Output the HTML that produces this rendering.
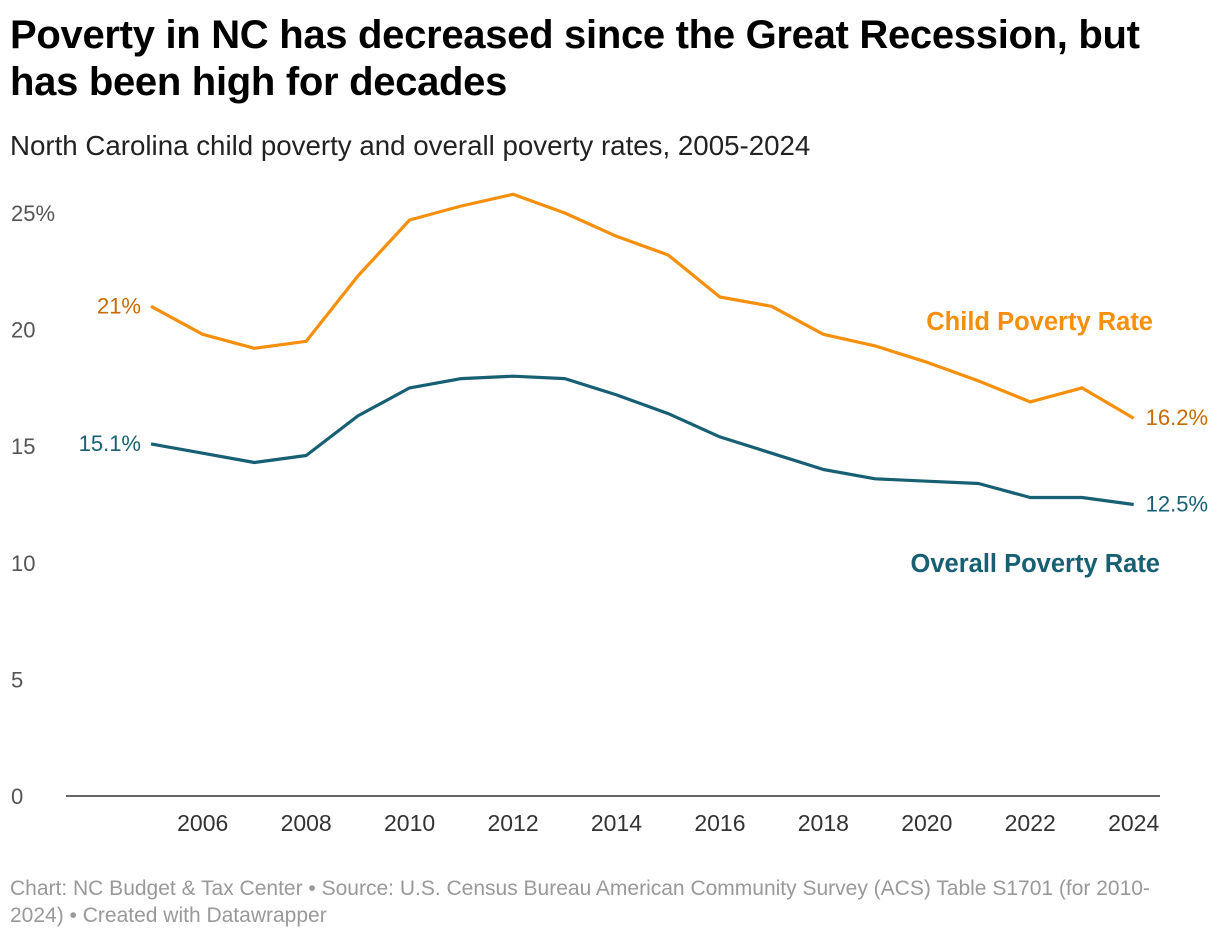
<!DOCTYPE html>
<html><head><meta charset="utf-8"><style>
body{margin:0;background:#fff;font-family:"Liberation Sans",sans-serif;}
#wrap{position:relative;width:1220px;height:938px;overflow:hidden;}
h1{position:absolute;left:10px;top:12px;margin:0;font-size:40px;line-height:47px;font-weight:bold;color:#000;width:1200px;letter-spacing:-0.3px}
.sub{position:absolute;left:10px;top:130px;font-size:27.7px;color:#222;}
.foot{position:absolute;left:10px;top:875px;font-size:21px;line-height:27px;color:#999;width:1185px}
svg{position:absolute;left:0;top:0}
</style></head><body>
<div id="wrap">
<h1>Poverty in NC has decreased since the Great Recession, but has been high for decades</h1>
<div class="sub">North Carolina child poverty and overall poverty rates, 2005-2024</div>
<svg id="plot" width="1220" height="938"></svg>
<div class="foot">Chart: NC Budget &amp; Tax Center • Source: U.S. Census Bureau American Community Survey (ACS) Table S1701 (for 2010-2024) • Created with Datawrapper</div>
</div>
<script>
const years=[2005,2006,2007,2008,2009,2010,2011,2012,2013,2014,2015,2016,2017,2018,2019,2020,2021,2022,2023,2024];
const childRate=[21,19.8,19.2,19.5,22.3,24.7,25.3,25.8,25.0,24.0,23.2,21.4,21.0,19.8,19.3,18.6,17.8,16.9,17.5,16.2];
const overallRate=[15.1,14.7,14.3,14.6,16.3,17.5,17.9,18.0,17.9,17.2,16.4,15.4,14.7,14.0,13.6,13.5,13.4,12.8,12.8,12.5];
const yTicks=[0,5,10,15,20,25];
const xTicks=[2006,2008,2010,2012,2014,2016,2018,2020,2022,2024];
const NS="http://www.w3.org/2000/svg";
const svg=document.getElementById('plot');
const x=v=>151+(v-2005)*51.72;
const y=v=>796-v*23.32;
function mk(tag,attrs,txt){const e=document.createElementNS(NS,tag);for(const k in attrs)e.setAttribute(k,attrs[k]);if(txt!==undefined)e.textContent=txt;svg.appendChild(e);return e;}
yTicks.forEach(t=>{
 const e=mk('text',{x:11,y:y(t)+8,'font-size':22,fill:'#555'},t===25?'25%':String(t));
 
 
});
const base=mk('line',{x1:66,x2:1160,y1:796,y2:796,stroke:'#333','stroke-width':1.5});


xTicks.forEach(t=>{
 const e=mk('text',{x:x(t),y:831,'font-size':23,fill:'#333','text-anchor':'middle'},String(t));
 
 
});
function line(vals,color,name){
 const d=vals.map((v,i)=>(i?'L':'M')+x(years[i]).toFixed(1)+','+y(v).toFixed(1)).join('');
 const p=mk('path',{d:d,fill:'none',stroke:color,'stroke-width':3.2,'stroke-linejoin':'round'});
 
 
}
line(childRate,'#f68f0c','child-poverty-line');
line(overallRate,'#175f73','overall-poverty-line');
const n=years.length-1;
const labs=[
 [x(years[0])-10,y(childRate[0])+7,childRate[0]+'%','end','#c96a00','child-start-label'],
 [x(years[n])+12,y(childRate[n])+7,childRate[n].toFixed(1)+'%','start','#c96a00','child-end-label'],
 [x(years[0])-10,y(overallRate[0])+7,overallRate[0].toFixed(1)+'%','end','#175f73','overall-start-label'],
 [x(years[n])+12,y(overallRate[n])+7,overallRate[n].toFixed(1)+'%','start','#175f73','overall-end-label']
];
labs.forEach(l=>{
 const e=mk('text',{x:l[0],y:l[1],'font-size':22,fill:l[4],'text-anchor':l[3]},l[2]);
 
 
});
const s1=mk('text',{x:1153,y:330,'font-size':25.5,'font-weight':'bold',fill:'#f68f0c','text-anchor':'end'},'Child Poverty Rate');


const s2=mk('text',{x:1160,y:572,'font-size':25.5,'font-weight':'bold',fill:'#175f73','text-anchor':'end'},'Overall Poverty Rate');


</script>
</body></html>
